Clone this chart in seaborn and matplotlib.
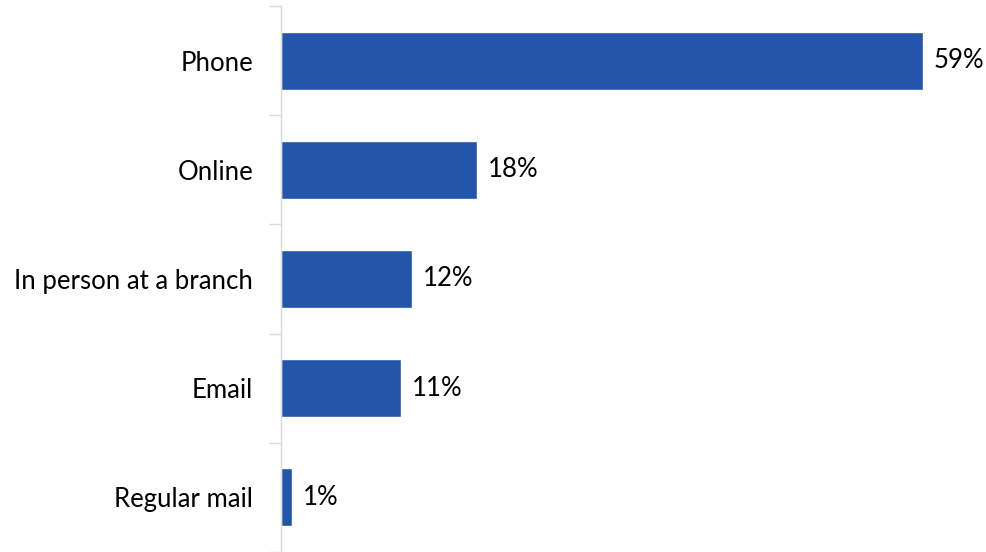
import matplotlib
matplotlib.use("Agg")
import matplotlib.pyplot as plt
import seaborn as sns
import pandas as pd

categories = ["Phone", "Online", "In person at a branch", "Email", "Regular mail"]
values = [59, 18, 12, 11, 1]

df = pd.DataFrame({"channel": categories, "pct": values})

sns.set_theme(style="white")
plt.rcParams['font.family'] = ['Lato', 'DejaVu Sans']

fig = plt.figure(figsize=(9.86, 5.52), dpi=100)
ax = fig.add_axes([281 / 986, 0.0, 1 - 281 / 986, 546 / 552])

sns.barplot(data=df, x="pct", y="channel", color="#2356AA", width=0.53,
            saturation=1, ax=ax)

for i, v in enumerate(values):
    ax.text(v + 1.0, i, f"{v}%", va="center", ha="left", fontsize=18.5, color="black")

ax.set_xlim(0, 64.8)
ax.set_ylim(4.5, -0.5)
ax.set_xlabel("")
ax.set_ylabel("")
ax.set_xticks([])

# ticks sit on category boundaries
ax.set_yticks([i - 0.5 for i in range(6)], minor=True)
ax.tick_params(axis="y", which="major", length=0, labelsize=18.5, pad=20, labelcolor="black")
ax.tick_params(axis="y", which="minor", length=9, width=1, color="#D9D9D9", left=True)

for s in ["top", "right", "bottom"]:
    ax.spines[s].set_visible(False)
ax.spines["left"].set_color("#D9D9D9")
ax.spines["left"].set_linewidth(1)

fig.savefig("out.png", dpi=100)
